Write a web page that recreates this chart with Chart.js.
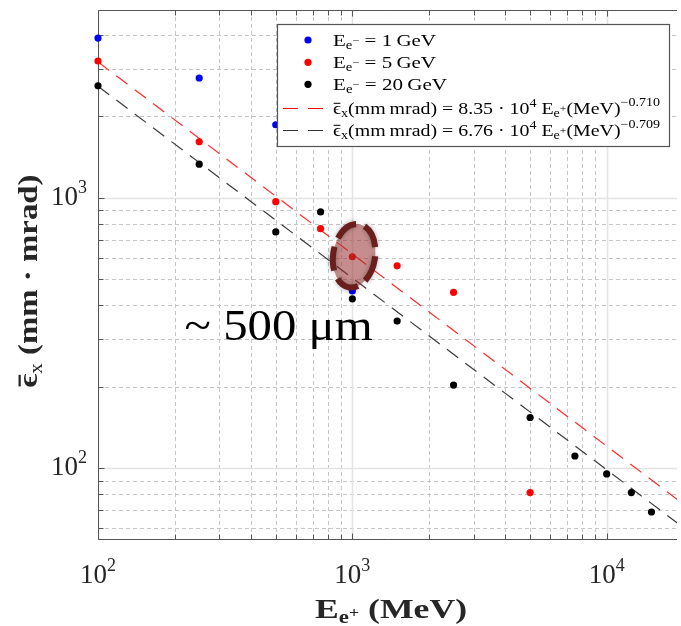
<!DOCTYPE html>
<html>
<head>
<meta charset="utf-8">
<script src="https://cdn.jsdelivr.net/npm/chart.js@4.4.1/dist/chart.umd.min.js"></script>
<style>
  html, body { margin: 0; padding: 0; background: #fff; }
  #chart { display: block; }
</style>
</head>
<body>
<canvas id="chart" width="681" height="626"></canvas>
<script>
// values
const energies1 = [100, 250, 500, 1000];
const emit1 = [3890, 2770, 1860, 452];
const energies5 = [100, 250, 500, 750, 1000, 1500, 2500, 5000];
const emit5 = [3200, 1610, 967, 768, 605, 560, 447, 81.3];
const energies20 = [100, 250, 500, 750, 1000, 1500, 2500, 5000, 7500, 10000, 12500, 15000];
const emit20 = [2590, 1330, 747, 886, 423, 350, 203, 154, 111, 95.3, 81.3, 68.9];
// fit lines, end points
const fitX = [100, 20000];
const fitRed = [3175, 73.8];
const fitBlack = [2582, 60.4];
// ticks and grid
const xTickVals = [100, 1000, 10000];
const xTickExp = ['2', '3', '4'];
const yTickVals = [100, 1000];
const yTickExp = ['2', '3'];
const xMinor = [200, 300, 400, 500, 600, 700, 800, 900, 2000, 3000, 4000, 5000, 6000, 7000, 8000, 9000];
const yMinor = [60, 70, 80, 90, 200, 300, 400, 500, 600, 700, 800, 900, 2000, 3000, 4000];

const SERIF = '"Liberation Serif", "DejaVu Serif", serif';

const toPts = (xs, ys) => xs.map((v, i) => ({x: v, y: ys[i]}));

// draw a row of text pieces (sub/superscripts), optionally stretched to a width
function drawRuns(ctx, runs, x, y, opts) {
    opts = opts || {};
    const widths = runs.map(r => {
        ctx.font = (r.b ? 'bold ' : '') + r.s + 'px ' + SERIF;
        return ctx.measureText(r.t).width;
    });
    const total = widths.reduce((a, b) => a + b, 0);
    const sx = opts.width ? opts.width / total : 1;
    let cx = opts.align === 'center' ? -total / 2 : (opts.align === 'right' ? -total : 0);
    ctx.save();
    ctx.translate(x, y);
    ctx.scale(sx, 1);
    ctx.fillStyle = opts.color || '#000';
    ctx.textAlign = 'left';
    ctx.textBaseline = 'alphabetic';
    runs.forEach((r, i) => {
        const dy = r.dy || 0;
        ctx.font = (r.b ? 'bold ' : '') + r.s + 'px ' + SERIF;
        ctx.fillText(r.t, cx, dy);
        if (r.bar) {
            ctx.fillRect(cx + widths[i] * 0.08, dy - r.s * 0.66, widths[i] * 0.84, r.b ? r.s * 0.08 : r.s * 0.06);
        }
        cx += widths[i];
    });
    ctx.restore();
}

function hline(ctx, x1, x2, y) { ctx.beginPath(); ctx.moveTo(x1, y); ctx.lineTo(x2, y); ctx.stroke(); }
function vline(ctx, x, y1, y2) { ctx.beginPath(); ctx.moveTo(x, y1); ctx.lineTo(x, y2); ctx.stroke(); }

const decorations = {
    id: 'decorations',
    beforeDatasetsDraw(chart) {
        const {ctx, chartArea: a, scales: {x, y}} = chart;
        const px = v => Math.round(x.getPixelForValue(v)) + 0.5;
        const py = v => Math.round(y.getPixelForValue(v)) + 0.5;

        // grid
        ctx.save();
        ctx.beginPath();
        ctx.rect(a.left, a.top, a.right - a.left, a.bottom - a.top);
        ctx.clip();
        ctx.strokeStyle = '#c6c6c6';
        ctx.lineWidth = 1;
        ctx.setLineDash([4, 3]);
        xMinor.forEach(v => vline(ctx, px(v), a.top, a.bottom));
        yMinor.forEach(v => hline(ctx, a.left, a.right, py(v)));
        ctx.setLineDash([]);
        ctx.strokeStyle = '#e4e4e4';
        ctx.lineWidth = 1.6;
        xTickVals.forEach(v => vline(ctx, px(v), a.top, a.bottom));
        yTickVals.forEach(v => hline(ctx, a.left, a.right, py(v)));
        ctx.restore();

        // axes box (no right edge, it is cut off)
        ctx.save();
        ctx.strokeStyle = '#555';
        ctx.lineWidth = 1;
        const L = a.left + 0.5, T = a.top + 0.5, B = a.bottom - 0.5;
        hline(ctx, L, a.right, T);
        hline(ctx, L, a.right, B);
        vline(ctx, L, T, B);
        xMinor.concat(xTickVals).forEach(v => {
            const p = px(v);
            const len = xTickVals.includes(v) ? 6 : 5;
            vline(ctx, p, B, B - len);
            vline(ctx, p, T, T + len);
        });
        yMinor.concat(yTickVals).forEach(v => {
            const p = py(v);
            const len = yTickVals.includes(v) ? 6 : 5;
            hline(ctx, L, L + len, p);
        });
        ctx.restore();

        // tick labels
        xTickVals.forEach((v, i) => {
            drawRuns(ctx, [{t: '10', s: 27}, {t: xTickExp[i], s: 18, dy: -12}],
                x.getPixelForValue(v), 583, {align: 'center', color: '#262626'});
        });
        yTickVals.forEach((v, i) => {
            drawRuns(ctx, [{t: '10', s: 27}, {t: yTickExp[i], s: 18, dy: -12}],
                87, y.getPixelForValue(v) + 7, {align: 'right', color: '#262626'});
        });

        // axis titles
        drawRuns(ctx, [
            {t: 'E', s: 28, b: true},
            {t: 'e', s: 18, b: true, dy: 5},
            {t: '+', s: 14, b: true, dy: -1},
            {t: ' (MeV)', s: 28, b: true}
        ], 391, 618, {align: 'center', width: 152, color: '#262626'});

        ctx.save();
        ctx.translate(37, 281);
        ctx.rotate(-Math.PI / 2);
        drawRuns(ctx, [
            {t: '\u03F5', s: 28, b: true, bar: true},
            {t: 'x', s: 18, dy: 5},
            {t: ' (mm \u00B7 mrad)', s: 28, b: true}
        ], 0, 0, {align: 'center', width: 213, color: '#262626'});
        ctx.restore();
    },
    afterDatasetsDraw(chart) {
        const {ctx, scales: {x, y}} = chart;

        // legend
        ctx.save();
        ctx.fillStyle = '#fff';
        ctx.strokeStyle = '#555';
        ctx.lineWidth = 1.2;
        ctx.fillRect(277.5, 24.5, 392, 122);
        ctx.strokeRect(277.5, 24.5, 392, 122);
        const markers = [['#0000ff', 40], ['#ff0000', 62.3], ['#000000', 84.3]];
        markers.forEach(m => {
            ctx.fillStyle = m[0];
            ctx.beginPath();
            ctx.arc(308, m[1], 3.6, 0, Math.PI * 2);
            ctx.fill();
        });
        ctx.lineWidth = 1.2;
        ctx.setLineDash([15, 10]);
        ctx.strokeStyle = '#ff0000';
        hline(ctx, 283, 325, 108.5);
        ctx.strokeStyle = '#333';
        hline(ctx, 283, 325, 130.5);
        ctx.restore();

        const eMinus = v => [
            {t: 'E', s: 17}, {t: 'e', s: 12, dy: 3}, {t: '\u2212', s: 10, dy: -2},
            {t: ' = ' + v + '\u2009GeV', s: 17}
        ];
        drawRuns(ctx, eMinus('1'), 333, 45.7, {width: 103});
        drawRuns(ctx, eMinus('5'), 333, 68, {width: 103});
        drawRuns(ctx, eMinus('20'), 333, 90, {width: 114});
        const fitText = (a, p) => [
            {t: '\u03F5', s: 17, bar: true}, {t: 'x', s: 12, dy: 3},
            {t: '(mm\u2009mrad) = ' + a + ' \u00B7 10', s: 17}, {t: '4', s: 12, dy: -7},
            {t: ' E', s: 17}, {t: 'e', s: 12, dy: 3}, {t: '+', s: 10, dy: -2},
            {t: '(MeV)', s: 17}, {t: '\u2212' + p, s: 12, dy: -8}
        ];
        drawRuns(ctx, fitText('8.35', '0.710'), 333, 114, {width: 327});
        drawRuns(ctx, fitText('6.76', '0.709'), 333, 136, {width: 327});

        // highlighted point
        const cx = x.getPixelForValue(1016), cy = y.getPixelForValue(610);
        ctx.save();
        ctx.beginPath();
        ctx.ellipse(cx, cy, 21, 32, 0.15, 0, Math.PI * 2);
        ctx.fillStyle = 'rgba(150, 48, 48, 0.55)';
        ctx.fill();
        ctx.shadowColor = 'rgba(0, 0, 0, 0.35)';
        ctx.shadowBlur = 5;
        ctx.lineWidth = 6;
        ctx.setLineDash([24, 9]);
        ctx.strokeStyle = '#6a1e1e';
        ctx.stroke();
        ctx.restore();

        drawRuns(ctx, [{t: '~ 500 \u03BCm', s: 45}],
            x.getPixelForValue(219), y.getPixelForValue(298), {width: 188});
    }
};

const pointSet = (label, xs, ys, color) => ({
    type: 'scatter',
    label: label,
    data: toPts(xs, ys),
    backgroundColor: color,
    borderColor: color,
    pointRadius: 3.6,
    pointBorderWidth: 0,
    showLine: false,
    clip: false,
    order: 0
});
const fitSet = (label, ys, color) => ({
    type: 'line',
    label: label,
    data: toPts(fitX, ys),
    borderColor: color,
    borderWidth: 1.2,
    borderDash: [14, 9],
    pointRadius: 0,
    fill: false,
    tension: 0,
    order: 1
});

window.onload = function() {
    const canvas = document.getElementById('chart');
    new Chart(canvas, {
        type: 'scatter',
        data: {
            datasets: [
                pointSet('E = 1 GeV', energies1, emit1, '#0000ff'),
                pointSet('E = 5 GeV', energies5, emit5, '#ff0000'),
                pointSet('E = 20 GeV', energies20, emit20, '#000000'),
                fitSet('fit 5 GeV', fitRed, '#ff2a2a'),
                fitSet('fit 20 GeV', fitBlack, '#3a3a3a')
            ]
        },
        options: {
            responsive: false,
            animation: false,
            devicePixelRatio: 1,
            events: [],
            layout: {padding: {left: 98, top: 10, right: 0, bottom: 86}},
            plugins: {legend: {display: false}, tooltip: {enabled: false}},
            scales: {
                x: {type: 'logarithmic', min: 100, max: 18900, display: false},
                y: {type: 'logarithmic', min: 54.3, max: 4940, display: false}
            }
        },
        plugins: [decorations]
    });
};
</script>
</body>
</html>
